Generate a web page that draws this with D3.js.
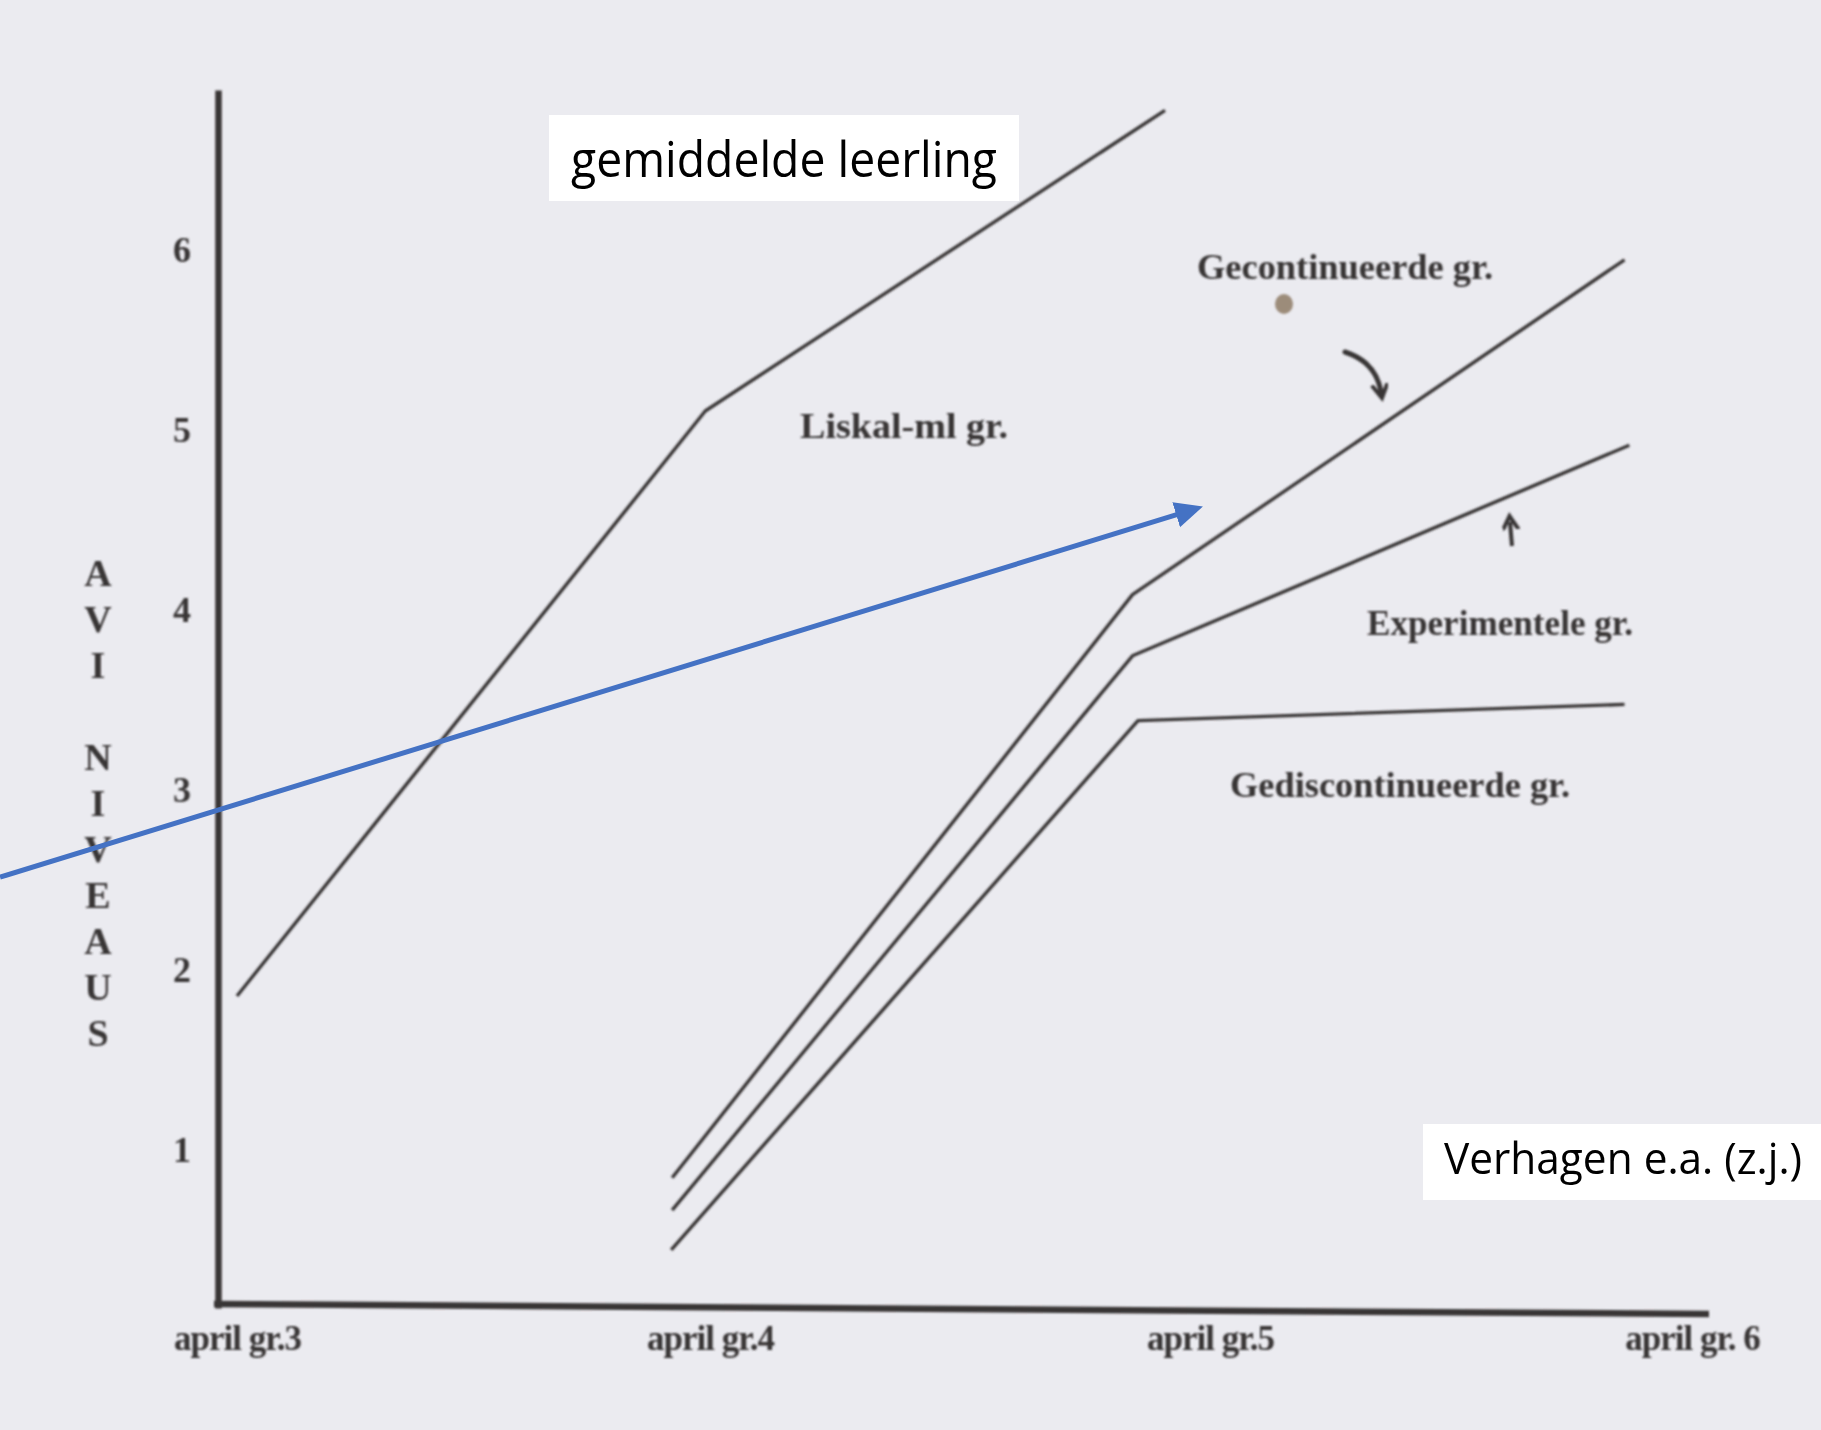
<!DOCTYPE html>
<html>
<head>
<meta charset="utf-8">
<script src="https://cdn.jsdelivr.net/npm/d3@7"></script>
<style>
  body { margin: 0; background: #ebebf0; }
  svg { display: block; }
</style>
</head>
<body>
<svg id="chart" width="1821" height="1430"></svg>
<script>
var grades = [3, 4, 5, 6];
var gradeLabels = ["april gr.3", "april gr.4", "april gr.5", "april gr. 6"];
var levelTicks = [1, 2, 3, 4, 5, 6];
var axisTitle = "AVI NIVEAUS";

// [grade, AVI level]
var liskal = [[3.00, 1.85], [3.99, 5.10], [4.91, 6.77]];
var gecontinueerd = [[3.92, 0.84], [4.845, 4.08], [5.86, 5.94]];
var experimenteel = [[3.92, 0.66], [4.845, 3.74], [5.87, 4.91]];
var gediscontinueerd = [[3.918, 0.44], [4.856, 3.38], [5.86, 3.47]];

var seriesNames = ["Liskal-ml gr.", "Gecontinueerde gr.", "Experimentele gr.", "Gediscontinueerde gr."];
var notes = ["gemiddelde leerling", "Verhagen e.a. (z.j.)"];

var ink = "#383535";
var svg = d3.select("#chart");

var defs = svg.append("defs");
defs.append("filter").attr("id", "scan")
    .append("feGaussianBlur").attr("stdDeviation", 0.8);
defs.append("marker")
    .attr("id", "blueHead").attr("markerUnits", "userSpaceOnUse")
    .attr("markerWidth", 30).attr("markerHeight", 28)
    .attr("refX", 4).attr("refY", 13).attr("orient", "auto")
    .append("path").attr("d", "M0,0 L28,13 L0,26 Z").attr("fill", "#4472c4");
defs.append("marker")
    .attr("id", "inkHead").attr("markerUnits", "userSpaceOnUse")
    .attr("markerWidth", 20).attr("markerHeight", 20)
    .attr("refX", 8).attr("refY", 8).attr("orient", "auto")
    .append("path").attr("d", "M0,0 L14,8 L0,16").attr("fill", "none")
    .attr("stroke", ink).attr("stroke-width", 4);

var x = d3.scaleLinear().domain(grades).range([237, 710, 1210, 1692]);
var y = d3.scaleLinear().domain([1, 6]).range([1149, 249]);

var paper = svg.append("g").attr("filter", "url(#scan)");

// y axis, longer than the tick range
var yAxisScale = y.copy().domain([y.invert(1308), y.invert(90)]).range([1308, 90]);
var yAxis = paper.append("g")
    .attr("transform", "translate(218,0)")
    .call(d3.axisLeft(yAxisScale).tickValues(levelTicks).tickSize(0).tickFormat(d3.format("d")));
yAxis.select(".domain").attr("stroke", ink).attr("stroke-width", 6.5);
yAxis.selectAll("text")
    .attr("x", -36).attr("dy", "0.36em")
    .attr("text-anchor", "middle")
    .style("font-family", "'Liberation Serif', serif")
    .style("font-weight", "bold").style("font-size", "36px")
    .attr("fill", ink);

// x axis, slightly skewed in the scan
var xAxis = paper.append("g")
    .attr("transform", "translate(0,1309)")
    .call(d3.axisBottom(x).tickValues(grades).tickSize(0)
        .tickFormat(function (d, i) { return gradeLabels[i]; }));
xAxis.select(".domain").remove();
xAxis.selectAll("text")
    .attr("y", 16).attr("dy", "0.71em")
    .style("font-family", "'Liberation Serif', serif")
    .style("font-weight", "bold").style("font-size", "35px")
    .style("letter-spacing", "-1px")
    .attr("fill", ink);
paper.append("line")
    .attr("x1", 214).attr("y1", 1304).attr("x2", 1709).attr("y2", 1314)
    .attr("stroke", ink).attr("stroke-width", 6.5);

var line = d3.line()
    .x(function (d) { return x(d[0]); })
    .y(function (d) { return y(d[1]); });

paper.selectAll("path.series")
    .data([liskal, gecontinueerd, experimenteel, gediscontinueerd])
    .enter().append("path")
    .attr("class", "series")
    .attr("d", line)
    .attr("fill", "none")
    .attr("stroke", ink)
    .attr("stroke-width", 3.4)
    .attr("stroke-linejoin", "round");

// series labels as printed in the figure
var labelPos = [[800, 438, 208], [1197, 279, 296], [1367, 635, 266], [1230, 797, 340]];
paper.selectAll("text.serieslabel")
    .data(seriesNames)
    .enter().append("text")
    .attr("class", "serieslabel")
    .attr("x", function (d, i) { return labelPos[i][0]; })
    .attr("y", function (d, i) { return labelPos[i][1]; })
    .attr("textLength", function (d, i) { return labelPos[i][2]; })
    .attr("lengthAdjust", "spacingAndGlyphs")
    .style("font-family", "'Liberation Serif', serif")
    .style("font-weight", "bold").style("font-size", "36px")
    .attr("fill", ink)
    .text(function (d) { return d; });

// vertical stacked axis title
paper.append("text")
    .attr("text-anchor", "middle")
    .style("font-family", "'Liberation Serif', serif")
    .style("font-weight", "bold").style("font-size", "38px")
    .attr("fill", ink)
    .selectAll("tspan")
    .data(axisTitle.split(""))
    .enter().append("tspan")
    .attr("x", 98)
    .attr("y", function (d, i) { return 586 + i * 46; })
    .text(function (d) { return d; });

// hand drawn arrows near the lines
paper.append("path")
    .attr("d", "M1345,352 Q1376,362 1381,392")
    .attr("fill", "none").attr("stroke", ink).attr("stroke-width", 5)
    .attr("stroke-linecap", "round")
    .attr("marker-end", "url(#inkHead)");
paper.append("path")
    .attr("d", "M1512,546 L1510,522")
    .attr("fill", "none").attr("stroke", ink).attr("stroke-width", 4)
    .attr("marker-end", "url(#inkHead)");

// stain on the scan
svg.append("ellipse")
    .attr("cx", 1284).attr("cy", 304).attr("rx", 9).attr("ry", 10)
    .attr("fill", "#9c8c7a").attr("filter", "url(#scan)");

// overlay annotations
function noteBox(text, x0, y0, w, h, tx, ty, tl, fs) {
    svg.append("rect")
        .attr("x", x0).attr("y", y0).attr("width", w).attr("height", h)
        .attr("fill", "#ffffff");
    svg.append("text")
        .attr("x", tx).attr("y", ty)
        .attr("textLength", tl).attr("lengthAdjust", "spacingAndGlyphs")
        .style("font-family", "'Open Sans', sans-serif")
        .style("font-size", fs + "px")
        .attr("fill", "#000000")
        .text(text);
}
noteBox(notes[0], 549, 115, 470, 86, 571, 177, 426, 50);
noteBox(notes[1], 1423, 1124, 398, 76, 1444, 1174, 358, 43);

svg.append("line")
    .attr("x1", x(2.499)).attr("y1", y(2.51))
    .attr("x2", x(4.94)).attr("y2", y(4.53))
    .attr("stroke", "#4472c4").attr("stroke-width", 5)
    .attr("marker-end", "url(#blueHead)");
</script>
</body>
</html>
